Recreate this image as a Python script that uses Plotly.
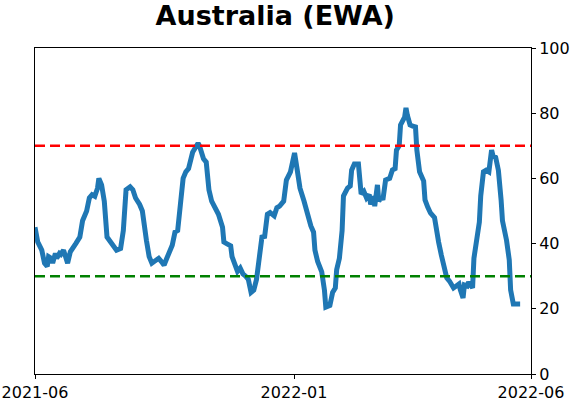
import pandas as pd
import plotly.graph_objects as go

start_date = "2021-06-01"
days_since_start = [0, 2, 5, 7, 9, 10, 12, 13, 15, 16, 18, 19, 21, 23, 24, 26, 28, 30, 33, 35,
                    38, 40, 42, 44, 46, 47, 49, 51, 53, 55, 57, 60, 63, 65, 67, 70, 72, 74, 77, 79,
                    82, 84, 86, 88, 91, 93, 95, 97, 99, 101, 103, 105, 107, 109, 111, 113, 116, 118, 120, 121,
                    124, 126, 128, 130, 132, 135, 138, 139, 141, 144, 145, 147, 149, 151, 153, 155, 157, 159, 161, 163,
                    165, 167, 169, 171, 173, 176, 178, 180, 183, 185, 188, 190, 191, 193, 195, 198, 201, 203, 205, 206,
                    208, 211, 213, 214, 217, 219, 221, 222, 224, 226, 227, 230, 232, 233, 235, 238, 240, 242, 244, 246,
                    247, 249, 250, 252, 253, 255, 256, 258, 261, 263, 265, 266, 268, 269, 272, 273, 274, 276, 278, 280,
                    281, 283, 286, 287, 289, 291, 294, 295, 297, 299, 301, 303, 305, 308, 310, 312, 313, 315, 316, 318,
                    319, 322, 323, 325, 327, 328, 330, 332, 334, 336, 337, 339, 341, 343, 344, 347, 349, 350, 352, 354, 357]
values = [45, 40.5, 38, 34, 33, 36, 35.5, 34, 37, 35.5, 37, 36.7, 38, 35.8, 34, 37.5, 38.5, 40, 42, 47,
          50, 54, 55, 54.5, 57, 60, 58, 53, 42, 41, 40, 38, 38.5, 44, 56.5, 57.4, 56.5, 54, 52, 50,
          41, 36, 34, 34.8, 35.5, 34.5, 33.4, 35.5, 38, 39.5, 43.5, 44, 52, 60, 62, 63, 68, 69.3, 70.8, 70,
          66, 65, 56.5, 53, 51.5, 49, 45, 40.5, 40, 39.3, 36, 34, 31.5, 32.5, 30.7, 30, 29, 25, 25.7, 29,
          34.5, 42, 42.2, 49, 49.5, 48.5, 51, 51.5, 53, 59.5, 62, 65, 67.8, 62.5, 57, 53, 48, 45.4, 43.5, 38,
          34.5, 31.3, 25.7, 20.5, 21, 25, 26.4, 32, 35.5, 44, 54.6, 57, 57.7, 62.5, 64.4, 64.4, 55.2, 56, 54, 55,
          52, 54.5, 51.5, 58, 53, 54.3, 53.4, 59.5, 60, 62.6, 63, 68.7, 70, 76.4, 78.8, 81.6, 79.4, 76.4, 76, 75.8,
          68.7, 62, 59.2, 53.4, 51.2, 49.4, 48, 44.8, 40.5, 36.5, 32.5, 29.5, 28.5, 26.4, 27, 27.6, 25.8, 23.3, 27.3, 27,
          28.2, 26.4, 35.5, 40, 46.6, 54.6, 62, 62.5, 62, 68.7, 67, 66.5, 62.5, 53.4, 47, 41, 35, 25.8, 21.5, 21.5, 21.5]

tick_days = [0, 190.6, 365]
tick_labels = ["2021-06", "2022-01", "2022-06"]
upper_level = 70
lower_level = 30

t0 = pd.Timestamp(start_date)
dates = t0 + pd.to_timedelta(days_since_start, unit="D")
tick_vals = [t0 + pd.to_timedelta(d, unit="D") for d in tick_days]
x_end = t0 + pd.to_timedelta(365, unit="D")

fig = go.Figure()
fig.add_trace(go.Scatter(x=dates, y=values, mode="lines",
                         line=dict(color="#1f77b4", width=5), showlegend=False))
for lvl, col in [(upper_level, "#ff0000"), (lower_level, "#008000")]:
    fig.add_trace(go.Scatter(x=[t0, x_end], y=[lvl, lvl], mode="lines",
                             line=dict(color=col, width=2.5, dash="10px,5px"), showlegend=False))

fig.update_layout(
    width=571, height=402,
    margin=dict(l=35, r=40, t=48, b=28, autoexpand=False),
    paper_bgcolor="white", plot_bgcolor="white",
    font=dict(family="DejaVu Sans", size=16, color="black"),
    title=dict(text="<b>Australia (EWA)</b>", x=0.482, xanchor="center", y=0.962, yanchor="middle",
               font=dict(family="DejaVu Sans", size=27, color="black")),
    xaxis=dict(range=[t0, x_end], tickvals=tick_vals, ticktext=tick_labels, automargin=False,
               showgrid=False, zeroline=False, showline=True, linecolor="black", linewidth=1,
               mirror=True, ticks="outside", ticklen=4, tickcolor="black"),
    yaxis=dict(range=[0, 100], tickvals=[0, 20, 40, 60, 80, 100], side="right", automargin=False,
               showgrid=False, zeroline=False, showline=True, linecolor="black", linewidth=1,
               mirror=True, ticks="outside", ticklen=4, tickcolor="black"),
)
fig.write_html("out.html")
